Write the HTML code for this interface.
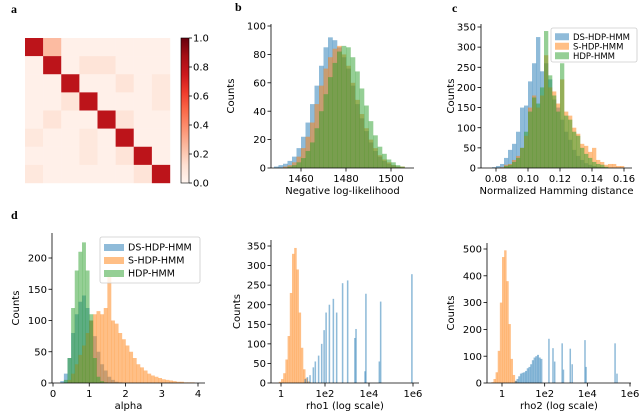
<!DOCTYPE html>
<html><head><meta charset="utf-8"><style>
html,body{margin:0;padding:0;background:#fff;}
svg{display:block;font-family:"DejaVu Sans","Liberation Sans",sans-serif;}
</style></head><body>
<svg id="fig" width="640" height="411" viewBox="0 0 640 411" xmlns="http://www.w3.org/2000/svg">
<defs>
<linearGradient id="reds" x1="0" y1="1" x2="0" y2="0">
<stop offset="0" stop-color="#fff5f0"/><stop offset="0.125" stop-color="#fee0d2"/><stop offset="0.25" stop-color="#fcbba1"/><stop offset="0.375" stop-color="#fc9272"/><stop offset="0.5" stop-color="#fb6a4a"/><stop offset="0.625" stop-color="#ef3b2c"/><stop offset="0.75" stop-color="#cb181d"/><stop offset="0.875" stop-color="#a50f15"/><stop offset="1" stop-color="#67000d"/>
</linearGradient>
</defs>
<g id="root"></g>
</svg>
<script>
// ---- data ----
const heatRows = [
 [.8,.25,.03,.03,.03,.03,.03,.03],
 [.03,.8,.03,.1,.1,.03,.03,.03],
 [.03,.03,.8,.03,.03,.1,.03,.08],
 [.03,.03,.1,.8,.03,.03,.03,.08],
 [.03,.1,.03,.03,.8,.1,.03,.03],
 [.08,.03,.03,.08,.03,.8,.03,.03],
 [.03,.03,.03,.08,.03,.1,.8,.03],
 [.08,.03,.03,.03,.03,.03,.1,.8]];
const cbTicks = [0,0.2,0.4,0.6,0.8,1.0];

const bStart = 1448, bWidth = 2;
const bBlue =   [1,2,3,5,8,14,22,32,45,58,72,85,92,90,85,78,70,58,45,35,26,18,12,8,5,3,2,1,0,0];
const bOrange = [0,0,1,2,4,8,14,22,32,45,58,70,78,84,86,80,72,60,48,38,28,20,14,9,6,4,2,1,1,0];
const bGreen =  [0,0,0,1,2,4,7,12,18,28,40,52,64,74,82,86,85,78,68,56,44,33,23,15,10,6,4,2,1,0];
const bXTicks = [1460,1480,1500];
const bYTicks = [0,20,40,60,80,100];

const cStart = 0.0775, cWidth = 0.0025;
const cBlue =   [2,5,10,25,45,60,90,150,155,215,260,325,240,260,220,170,150,120,90,70,45,30,20,12,8,5,3,2,0,0,0,0,0,0];
const cOrange = [0,0,2,8,10,20,30,50,80,150,180,150,180,280,200,190,160,220,140,130,100,85,60,55,40,50,20,15,8,10,10,5,5,0];
const cGreen =  [0,0,0,5,8,15,25,50,90,140,175,160,200,340,230,180,140,260,130,120,90,80,50,35,25,15,10,8,3,0,0,0,0,0];
const cXTicks = [0.08,0.10,0.12,0.14,0.16];
const cYTicks = [0,50,100,150,200,250,300,350];

const dStart = 0, dWidth = 0.1;
const dBlue =   [0,0,3,15,40,80,110,130,140,120,100,75,50,30,20,10,5,2,1,0];
const dGreen =  [0,0,0,5,40,120,180,210,225,180,110,40,10,3,1,0];
const dOrange = [0,0,0,0,5,15,30,45,60,80,100,110,115,110,120,170,100,95,80,70,60,50,40,30,25,20,15,12,10,8,6,5,4,3,2,2,1,1,1,0];
const dXTicks = [0,1,2,3,4];
const dYTicks = [0,50,100,150,200];

const eOrangeStart = -0.1, eOrangeWidth = 0.1;
const eOrange = [3,10,25,60,120,230,330,345,290,180,90,35,12,4,1];
const eBlueLog = [1.1,1.2,1.32,1.47,1.56,1.71,1.85,1.96,2.05,2.2,2.38,2.53,2.8,3.03,3.36,3.41,3.82,3.86,4.47,4.53,5.95];
const eBlueCnt = [10,15,20,40,55,70,100,135,180,200,215,180,255,262,115,138,30,228,55,208,278];
const eXTicks = [0,2,4,6];
const eXTickLabels = ["1","1e2","1e4","1e6"];
const eYTicks = [0,50,100,150,200,250,300,350];

const fOrangeStart = -0.5, fOrangeWidth = 0.1;
const fOrange = [3,15,40,120,300,470,495,380,220,90,30,8,2,0];
const fBlueStart = 0.6, fBlueWidth = 0.08;
const fBlueCont = [8,15,25,35,38,40,45,55,60,70,85,95,100,105,95,90];
const fBlueLog = [2.2,2.39,2.47,2.82,2.88,3.2,3.29,3.89,3.94,5.3,5.39];
const fBlueCnt = [165,130,80,148,50,128,70,160,60,148,35];
const fXTicks = [0,2,4,6];
const fXTickLabels = ["1","1e2","1e4","1e6"];
const fYTicks = [0,100,200,300,400,500];

const BLUE="#1f77b4", ORANGE="#ff7f0e", GREEN="#2ca02c";
const FS=10;
const NS="http://www.w3.org/2000/svg";
const root=document.getElementById('root');
function el(tag,attrs,parent,text){const e=document.createElementNS(NS,tag);for(const k in attrs)e.setAttribute(k,attrs[k]);if(text!==undefined)e.textContent=text;(parent||root).appendChild(e);return e;}
function lin(d0,d1,r0,r1){return v=>r0+(v-d0)/(d1-d0)*(r1-r0);}

function axes(g,x0,x1,y0,y1,xs,ys,xt,xtl,yt,xlabel,ylabelX){
  const ax=el('line',{x1:x0,y1:y1,x2:x1,y2:y1,stroke:'#000','stroke-width':0.8},g);
  
  
  const ay=el('line',{x1:x0,y1:y0,x2:x0,y2:y1,stroke:'#000','stroke-width':0.8},g);
  
  
  xt.forEach((v,i)=>{const x=xs(v);
    el('line',{x1:x,y1:y1,x2:x,y2:y1+3.5,stroke:'#000','stroke-width':0.8},g);
    const t=el('text',{x:x,y:y1+14,'font-size':FS,'text-anchor':'middle'},g,xtl?xtl[i]:String(v));
    
    });
  yt.forEach(v=>{const y=ys(v);
    el('line',{x1:x0,y1:y,x2:x0-3.5,y2:y,stroke:'#000','stroke-width':0.8},g);
    const t=el('text',{x:x0-5,y:y+3.6,'font-size':FS,'text-anchor':'end'},g,String(v));
    
    });
  const xl=el('text',{x:(x0+x1)/2,y:y1+26,'font-size':FS,'text-anchor':'middle'},g,xlabel);
  
  
  const ym=(y0+y1)/2;
  const yl=el('text',{x:ylabelX,y:ym,'font-size':FS,'text-anchor':'middle',transform:`rotate(-90 ${ylabelX} ${ym})`},g,'Counts');
  
  
}
function hist(g,counts,start,w,xs,ys,color,name){
  const y0=ys(0);
  counts.forEach((c,i)=>{ if(c<=0)return;
    const xa=xs(start+i*w), xb=xs(start+(i+1)*w), y=ys(c);
    const r=el('rect',{x:xa,y:y,width:Math.max(0.5,xb-xa)+0.3,height:y0-y,fill:color,'fill-opacity':0.5},g);
    
    });
}
function spikes(g,pos,cnt,w,xs,ys,color,name){
  const y0=ys(0);
  pos.forEach((p,i)=>{const xa=xs(p-w/2),xb=xs(p+w/2),y=ys(cnt[i]);
    const r=el('rect',{x:xa,y:y,width:Math.max(1.5,xb-xa),height:y0-y,fill:color,'fill-opacity':0.5},g);
    
    });
}
function panelLabel(x,y,t){const e=el('text',{x:x,y:y,'font-size':12,'font-weight':'bold','font-family':'"Liberation Serif",serif'},root,t);
  
  }
function legend(g,x,y,w,h,rowH,patchW,fs){
  const b=el('rect',{x:x,y:y,width:w,height:h,fill:'#fff','fill-opacity':0.8,stroke:'#ccc','stroke-width':0.8,rx:2},g);
  
  
  [["DS-HDP-HMM",BLUE],["S-HDP-HMM",ORANGE],["HDP-HMM",GREEN]].forEach((e,i)=>{
    const cy=y+4+rowH*i+rowH/2;
    const p=el('rect',{x:x+4,y:cy-3.5,width:patchW,height:7,fill:e[1],'fill-opacity':0.5},g);
    
    
    const t=el('text',{x:x+8+patchW,y:cy+3,'font-size':fs},g,e[0]);
    
    });
}

// ---- panel a ----
panelLabel(11,13,'a');
const stops=[[0,[255,245,240]],[.125,[254,224,210]],[.25,[252,187,161]],[.375,[252,146,114]],[.5,[251,106,74]],[.625,[239,59,44]],[.75,[203,24,29]],[.875,[165,15,21]],[1,[103,0,13]]];
function reds(v){for(let i=1;i<stops.length;i++){if(v<=stops[i][0]){const a=stops[i-1],b=stops[i],t=(v-a[0])/(b[0]-a[0]);return 'rgb('+a[1].map((c,k)=>Math.round(c+(b[1][k]-c)*t)).join(',')+')';}}return 'rgb(103,0,13)';}
const ga=el('g',{});  
const hx=lin(0,8,25,170), hy=lin(0,8,38,183);
heatRows.forEach((row,r)=>row.forEach((v,c)=>{
  const cell=el('rect',{x:hx(c),y:hy(r),width:hx(c+1)-hx(c)+0.2,height:hy(r+1)-hy(r)+0.2,fill:reds(v)},ga);
  
  }));
const cb=el('rect',{x:181,y:38,width:8,height:145,fill:'url(#reds)',stroke:'#000','stroke-width':0.6});


const cby=lin(0,1,183,38);
cbTicks.forEach(v=>{el('line',{x1:189,y1:cby(v),x2:192,y2:cby(v),stroke:'#000','stroke-width':0.8});
  const t=el('text',{x:193,y:cby(v)+3.6,'font-size':FS},root,v.toFixed(1));
  
  });

// ---- panel b ----
panelLabel(235,11,'b');
const gb=el('g',{});  
const bxs=lin(1460,1500,301,391), bys=lin(0,100,168,26);
hist(gb,bBlue,bStart,bWidth,bxs,bys,BLUE,'bar-ds-hdp-hmm');
hist(gb,bOrange,bStart,bWidth,bxs,bys,ORANGE,'bar-s-hdp-hmm');
hist(gb,bGreen,bStart,bWidth,bxs,bys,GREEN,'bar-hdp-hmm');
axes(gb,271,414,24,168,bxs,bys,bXTicks,null,bYTicks,'Negative log-likelihood',234);

// ---- panel c ----
panelLabel(452,12,'c');
const gc=el('g',{});  
const cxs=lin(0.08,0.16,496,624), cys=lin(0,350,168,27);
hist(gc,cBlue,cStart,cWidth,cxs,cys,BLUE,'bar-ds-hdp-hmm');
hist(gc,cOrange,cStart,cWidth,cxs,cys,ORANGE,'bar-s-hdp-hmm');
hist(gc,cGreen,cStart,cWidth,cxs,cys,GREEN,'bar-hdp-hmm');
axes(gc,481,632,24,168,cxs,cys,cXTicks,cXTicks.map(v=>v.toFixed(2)),cYTicks,'Normalized Hamming distance',454);
legend(gc,551,28,86,34,9.5,14,8.5);

// ---- panel d ----
panelLabel(11,219,'d');
const gd=el('g',{});  
const dxs=lin(0,4,53,198), dys=lin(0,200,383,258);
hist(gd,dBlue,dStart,dWidth,dxs,dys,BLUE,'bar-ds-hdp-hmm');
hist(gd,dOrange,dStart,dWidth,dxs,dys,ORANGE,'bar-s-hdp-hmm');
hist(gd,dGreen,dStart,dWidth,dxs,dys,GREEN,'bar-hdp-hmm');
axes(gd,52,205,233,383,dxs,dys,dXTicks,null,dYTicks,'alpha',19);
legend(gd,100,237,100,46,13,20,9.5);

// ---- panel e ----
const ge=el('g',{});  
const exs=lin(0,6,281,413), eys=lin(0,350,383,246);
hist(ge,eOrange,eOrangeStart,eOrangeWidth,exs,eys,ORANGE,'bar-s-hdp-hmm');
spikes(ge,eBlueLog,eBlueCnt,0.07,exs,eys,BLUE,'bar-ds-hdp-hmm');
axes(ge,271,419,240,383,exs,eys,eXTicks,eXTickLabels,eYTicks,'rho1 (log scale)',240);

// ---- panel f ----
const gf=el('g',{});  
const fxs=lin(0,6,502,630), fys=lin(0,500,383,249);
hist(gf,fOrange,fOrangeStart,fOrangeWidth,fxs,fys,ORANGE,'bar-s-hdp-hmm');
hist(gf,fBlueCont,fBlueStart,fBlueWidth,fxs,fys,BLUE,'bar-ds-hdp-hmm');
spikes(gf,fBlueLog,fBlueCnt,0.07,fxs,fys,BLUE,'bar-ds-hdp-hmm');
axes(gf,487,631,243,383,fxs,fys,fXTicks,fXTickLabels,fYTicks,'rho2 (log scale)',454);
</script>
</body></html>
